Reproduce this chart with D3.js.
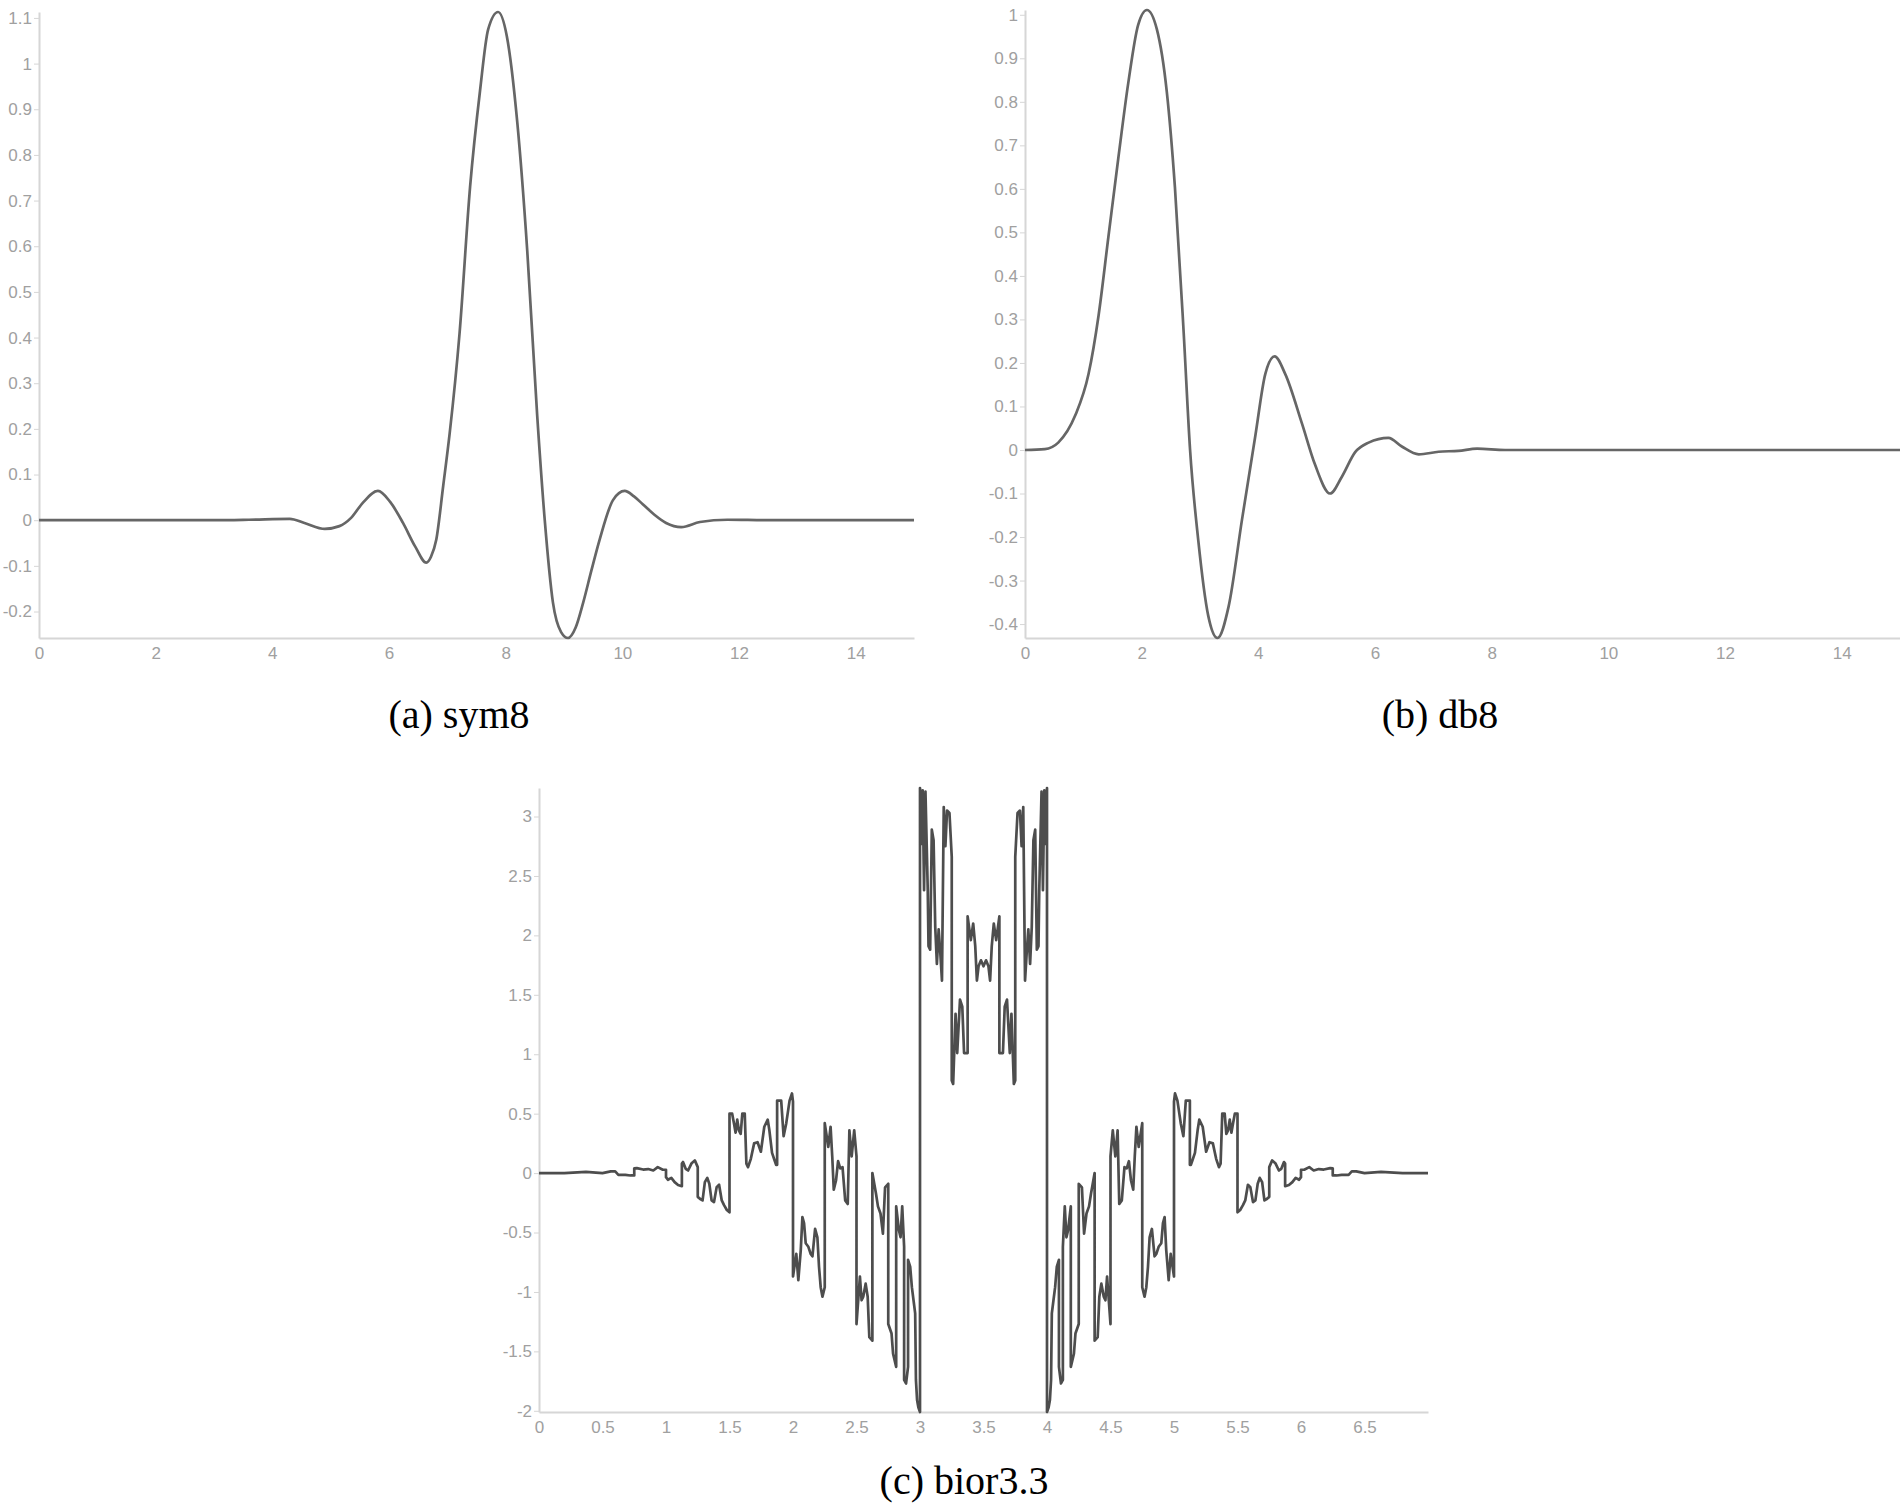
<!DOCTYPE html>
<html>
<head>
<meta charset="utf-8">
<script src="https://cdn.jsdelivr.net/npm/d3@7"></script>
<style>
  body { margin: 0; background: #fff; }
  .axis text { font-family: "Liberation Sans", Arial, sans-serif; font-size: 17px; fill: #a0a0a0; }
  .axis path, .axis line { stroke: #d6d6d6; }
  .axis path { stroke-width: 2; }
  .caption { font-family: "Liberation Serif", "Times New Roman", serif; font-size: 40px; fill: #000; }
</style>
</head>
<body>
<svg width="1900" height="1503"></svg>
<script>
// values
const sym8 = [
  [0,0],[1,0],[2,0],[3,0],[3.6,0.001],[4.3,0.003],[4.55,-0.006],[4.9,-0.019],[5.15,-0.013],[5.35,0.005],
  [5.55,0.038],[5.81,0.064],[6.02,0.04],[6.24,-0.006],[6.45,-0.058],[6.64,-0.093],[6.72,-0.08],[6.81,-0.043],
  [6.93,0.076],[7.04,0.19],[7.21,0.41],[7.39,0.73],[7.56,0.94],[7.7,1.075],[7.87,1.113],[8.02,1.06],
  [8.2,0.87],[8.37,0.59],[8.54,0.23],[8.67,0.0],[8.81,-0.18],[8.95,-0.245],[9.07,-0.258],[9.2,-0.235],
  [9.33,-0.18],[9.47,-0.11],[9.61,-0.043],[9.84,0.044],[10.04,0.064],[10.2,0.052],[10.35,0.035],[10.55,0.012],
  [10.75,-0.006],[11.01,-0.015],[11.33,-0.004],[11.8,0.001],[12.5,0],[13.5,0],[15,0]
];

const db8 = [
  [0,0],[0.34,0.002],[0.57,0.017],[0.86,0.079],[1.09,0.175],[1.26,0.308],[1.43,0.49],[1.6,0.671],
  [1.77,0.843],[1.94,0.977],[2.09,1.011],[2.26,0.967],[2.43,0.824],[2.57,0.604],[2.72,0.27],[2.83,0.0],
  [2.97,-0.207],[3.14,-0.38],[3.3,-0.432],[3.49,-0.36],[3.72,-0.16],[3.95,0.034],[4.12,0.175],[4.28,0.215],
  [4.46,0.175],[4.75,0.06],[4.97,-0.033],[5.23,-0.1],[5.43,-0.062],[5.66,-0.005],[5.89,0.017],[6.23,0.028],
  [6.46,0.008],[6.75,-0.01],[7.09,-0.004],[7.43,-0.002],[7.75,0.003],[8.23,0],[9,0],[15,0]
];

const bior33 = [
  [0,0],[0.2,0],[0.37,0.01],[0.5,0],[0.565,0.014],[0.6,0.014],[0.625,-0.015],[0.68,-0.015],[0.72,-0.02],[0.75,-0.02],
  [0.75,0.04],[0.77,0.042],[0.82,0.03],[0.86,0.034],[0.9,0.022],[0.935,0.05],[0.975,0.028],[1.0,0.028],
  [1.0,-0.034],[1.015,-0.056],[1.042,-0.04],[1.068,-0.076],[1.095,-0.1],[1.125,-0.11],
  [1.125,0.08],[1.134,0.093],[1.155,0.036],[1.174,0.022],[1.2,0.08],[1.227,0.107],[1.25,0.05],
  [1.25,-0.2],[1.267,-0.216],[1.288,-0.23],[1.306,-0.076],[1.325,-0.04],[1.341,-0.09],[1.359,-0.23],[1.378,-0.244],
  [1.399,-0.118],[1.418,-0.098],[1.439,-0.23],[1.457,-0.27],[1.479,-0.31],[1.5,-0.33],
  [1.5,0.5],[1.521,0.5],[1.535,0.42],[1.548,0.34],[1.561,0.45],[1.574,0.36],[1.588,0.33],[1.601,0.5],[1.62,0.5],
  [1.633,0.08],[1.646,0.05],[1.668,0.12],[1.694,0.25],[1.721,0.26],[1.747,0.18],[1.774,0.39],[1.801,0.45],
  [1.814,0.36],[1.835,0.17],[1.854,0.11],[1.867,0.07],[1.875,0.07],[1.875,0.61],[1.907,0.61],[1.926,0.31],
  [1.947,0.42],[1.973,0.61],[1.992,0.67],[2.0,0.6],
  [2.0,-0.87],[2.026,-0.68],[2.042,-0.9],[2.061,-0.65],[2.074,-0.37],[2.087,-0.42],[2.1,-0.59],[2.121,-0.62],
  [2.139,-0.68],[2.153,-0.7],[2.174,-0.47],[2.192,-0.54],[2.205,-0.79],[2.218,-0.96],[2.232,-1.04],[2.25,-0.96],
  [2.25,0.42],[2.278,0.22],[2.296,0.39],[2.309,0.14],[2.321,-0.14],[2.339,-0.06],[2.355,0.1],[2.372,0.04],
  [2.39,0.05],[2.411,-0.23],[2.431,-0.26],[2.444,0.36],[2.462,0.14],[2.482,0.36],[2.5,0.14],
  [2.5,-1.27],[2.527,-0.87],[2.54,-1.07],[2.553,-1.04],[2.572,-0.93],[2.588,-1.04],[2.601,-1.38],[2.625,-1.41],
  [2.625,0.0],[2.653,-0.17],[2.669,-0.28],[2.689,-0.34],[2.708,-0.51],[2.725,-0.12],[2.75,-0.09],
  [2.75,-1.27],[2.776,-1.35],[2.788,-1.52],[2.8125,-1.63],[2.8125,-0.28],[2.834,-0.48],[2.847,-0.54],[2.86,-0.28],
  [2.875,-0.62],[2.875,-1.74],[2.89,-1.77],[2.906,-1.63],[2.906,-0.73],[2.923,-0.79],[2.936,-0.96],[2.949,-1.07],
  [2.962,-1.18],[2.968,-1.74],[2.977,-1.91],[2.987,-1.97],[3.0,-2.01],
  [3.0,3.24],[3.013,2.77],[3.021,3.22],[3.032,2.38],[3.043,3.21],[3.053,2.75],[3.061,2.38],[3.067,1.91],[3.08,1.88],
  [3.093,2.89],[3.107,2.8],[3.12,2.07],[3.133,1.76],[3.147,2.05],[3.16,1.85],[3.173,1.62],[3.187,3.08],[3.2,2.75],
  [3.213,3.05],[3.232,3.03],[3.25,2.66],
  [3.25,0.78],[3.261,0.75],[3.28,1.34],[3.293,1.01],[3.315,1.46],[3.333,1.4],[3.347,1.01],[3.375,1.01],
  [3.375,2.16],[3.4,1.96],[3.419,2.1],[3.435,1.91],[3.448,1.62],[3.461,1.74],[3.48,1.79],[3.5,1.74],
  [3.52,1.79],[3.539,1.74],[3.552,1.62],[3.565,1.91],[3.581,2.1],[3.6,1.96],[3.625,2.16],
  [3.625,1.01],[3.653,1.01],[3.667,1.4],[3.685,1.46],[3.707,1.01],[3.72,1.34],[3.739,0.75],[3.75,0.78],
  [3.75,2.66],[3.768,3.03],[3.787,3.05],[3.8,2.75],[3.813,3.08],[3.827,1.62],[3.84,1.85],[3.853,2.05],[3.867,1.76],
  [3.88,2.07],[3.893,2.8],[3.907,2.89],[3.92,1.88],[3.933,1.91],[3.939,2.38],[3.947,2.75],[3.957,3.21],[3.968,2.38],
  [3.979,3.22],[3.987,2.77],[4.0,3.24],
  [4.0,-2.01],[4.013,-1.97],[4.023,-1.91],[4.032,-1.74],[4.038,-1.18],[4.051,-1.07],[4.064,-0.96],[4.077,-0.79],
  [4.094,-0.73],[4.094,-1.63],[4.11,-1.77],[4.125,-1.74],[4.125,-0.62],[4.14,-0.28],[4.153,-0.54],[4.166,-0.48],
  [4.1875,-0.28],[4.1875,-1.63],[4.212,-1.52],[4.224,-1.35],[4.25,-1.27],
  [4.25,-0.09],[4.275,-0.12],[4.292,-0.51],[4.311,-0.34],[4.331,-0.28],[4.347,-0.17],[4.375,0.0],
  [4.375,-1.41],[4.399,-1.38],[4.412,-1.04],[4.428,-0.93],[4.447,-1.04],[4.46,-1.07],[4.473,-0.87],[4.5,-1.27],
  [4.5,0.14],[4.518,0.36],[4.538,0.14],[4.556,0.36],[4.569,-0.26],[4.589,-0.23],[4.61,0.05],[4.628,0.04],
  [4.645,0.1],[4.661,-0.06],[4.679,-0.14],[4.691,0.14],[4.704,0.39],[4.722,0.22],[4.75,0.42],
  [4.75,-0.96],[4.768,-1.04],[4.782,-0.96],[4.795,-0.79],[4.808,-0.54],[4.826,-0.47],[4.847,-0.7],[4.861,-0.68],
  [4.879,-0.62],[4.9,-0.59],[4.913,-0.42],[4.926,-0.37],[4.939,-0.65],[4.958,-0.9],[4.974,-0.68],[5.0,-0.87],
  [5.0,0.6],[5.008,0.67],[5.027,0.61],[5.053,0.42],[5.074,0.31],[5.093,0.61],[5.125,0.61],[5.125,0.07],
  [5.133,0.07],[5.146,0.11],[5.165,0.17],[5.186,0.36],[5.199,0.45],[5.226,0.39],[5.253,0.18],[5.279,0.26],
  [5.306,0.25],[5.332,0.12],[5.354,0.05],[5.367,0.08],[5.38,0.5],[5.399,0.5],[5.412,0.33],[5.426,0.36],
  [5.439,0.45],[5.452,0.34],[5.465,0.42],[5.479,0.5],[5.5,0.5],
  [5.5,-0.33],[5.521,-0.31],[5.543,-0.27],[5.561,-0.23],[5.582,-0.098],[5.601,-0.118],[5.622,-0.244],[5.641,-0.23],
  [5.659,-0.09],[5.675,-0.04],[5.694,-0.076],[5.712,-0.23],[5.733,-0.216],[5.75,-0.2],
  [5.75,0.05],[5.773,0.107],[5.8,0.08],[5.826,0.022],[5.845,0.036],[5.866,0.093],[5.875,0.08],
  [5.875,-0.11],[5.905,-0.1],[5.932,-0.076],[5.958,-0.04],[5.985,-0.056],[6.0,-0.034],
  [6.0,0.028],[6.025,0.028],[6.065,0.05],[6.1,0.022],[6.14,0.034],[6.18,0.03],[6.23,0.042],[6.25,0.04],
  [6.25,-0.02],[6.28,-0.02],[6.32,-0.015],[6.375,-0.015],[6.4,0.014],[6.435,0.014],[6.5,0],[6.63,0.01],[6.8,0],[7,0]
];

const waveXTicks = [0, 2, 4, 6, 8, 10, 12, 14];
const sym8YTicks = [-0.2, -0.1, 0, 0.1, 0.2, 0.3, 0.4, 0.5, 0.6, 0.7, 0.8, 0.9, 1, 1.1];
const db8YTicks = [-0.4, -0.3, -0.2, -0.1, 0, 0.1, 0.2, 0.3, 0.4, 0.5, 0.6, 0.7, 0.8, 0.9, 1];
const biorXTicks = [0, 0.5, 1, 1.5, 2, 2.5, 3, 3.5, 4, 4.5, 5, 5.5, 6, 6.5];
const biorYTicks = [-2, -1.5, -1, -0.5, 0, 0.5, 1, 1.5, 2, 2.5, 3];
const captions = ["(a) sym8", "(b) db8", "(c) bior3.3"];

const svg = d3.select("svg");
svg.append("rect").attr("width", 1900).attr("height", 1503).attr("fill", "#fff");

const panels = [
  {data: sym8, xDomain: [0, 15], xRange: [39, 914], yRange: [638, 12], xTicks: waveXTicks, yTicks: sym8YTicks,
   caption: captions[0], capX: 459, capY: 728, curve: d3.curveMonotoneX, color: "#666", width: 2.7},
  {data: db8, xDomain: [0, 15], xRange: [1025, 1900], yRange: [638, 10], xTicks: waveXTicks, yTicks: db8YTicks,
   caption: captions[1], capX: 1440, capY: 728, curve: d3.curveMonotoneX, color: "#666", width: 2.7},
  {data: bior33, xDomain: [0, 7], xRange: [539, 1428], yRange: [1412, 788], xTicks: biorXTicks, yTicks: biorYTicks,
   caption: captions[2], capX: 964, capY: 1494, curve: d3.curveLinear, color: "#4d4d4d", width: 2.7}
];

panels.forEach(p => {
  const x = d3.scaleLinear().domain(p.xDomain).range(p.xRange);
  const y = d3.scaleLinear().domain(d3.extent(p.data, d => d[1])).range(p.yRange);

  const g = svg.append("g");

  g.append("g")
    .attr("class", "axis")
    .attr("transform", `translate(0,${p.yRange[0]})`)
    .call(d3.axisBottom(x).tickValues(p.xTicks).tickFormat(d => String(d)).tickSize(0).tickPadding(9));

  g.append("g")
    .attr("class", "axis")
    .attr("transform", `translate(${p.xRange[0]},0)`)
    .call(d3.axisLeft(y).tickValues(p.yTicks).tickFormat(d => String(d)).tickSizeInner(5).tickSizeOuter(0).tickPadding(2));

  const line = d3.line()
    .x(d => x(d[0]))
    .y(d => y(d[1]))
    .curve(p.curve);

  g.append("path")
    .datum(p.data)
    .attr("fill", "none")
    .attr("stroke", p.color)
    .attr("stroke-width", p.width)
    .attr("stroke-linejoin", "round")
    .attr("d", line);

  g.append("text")
    .attr("class", "caption")
    .attr("x", p.capX)
    .attr("y", p.capY)
    .attr("text-anchor", "middle")
    .text(p.caption);
});
</script>
</body>
</html>
